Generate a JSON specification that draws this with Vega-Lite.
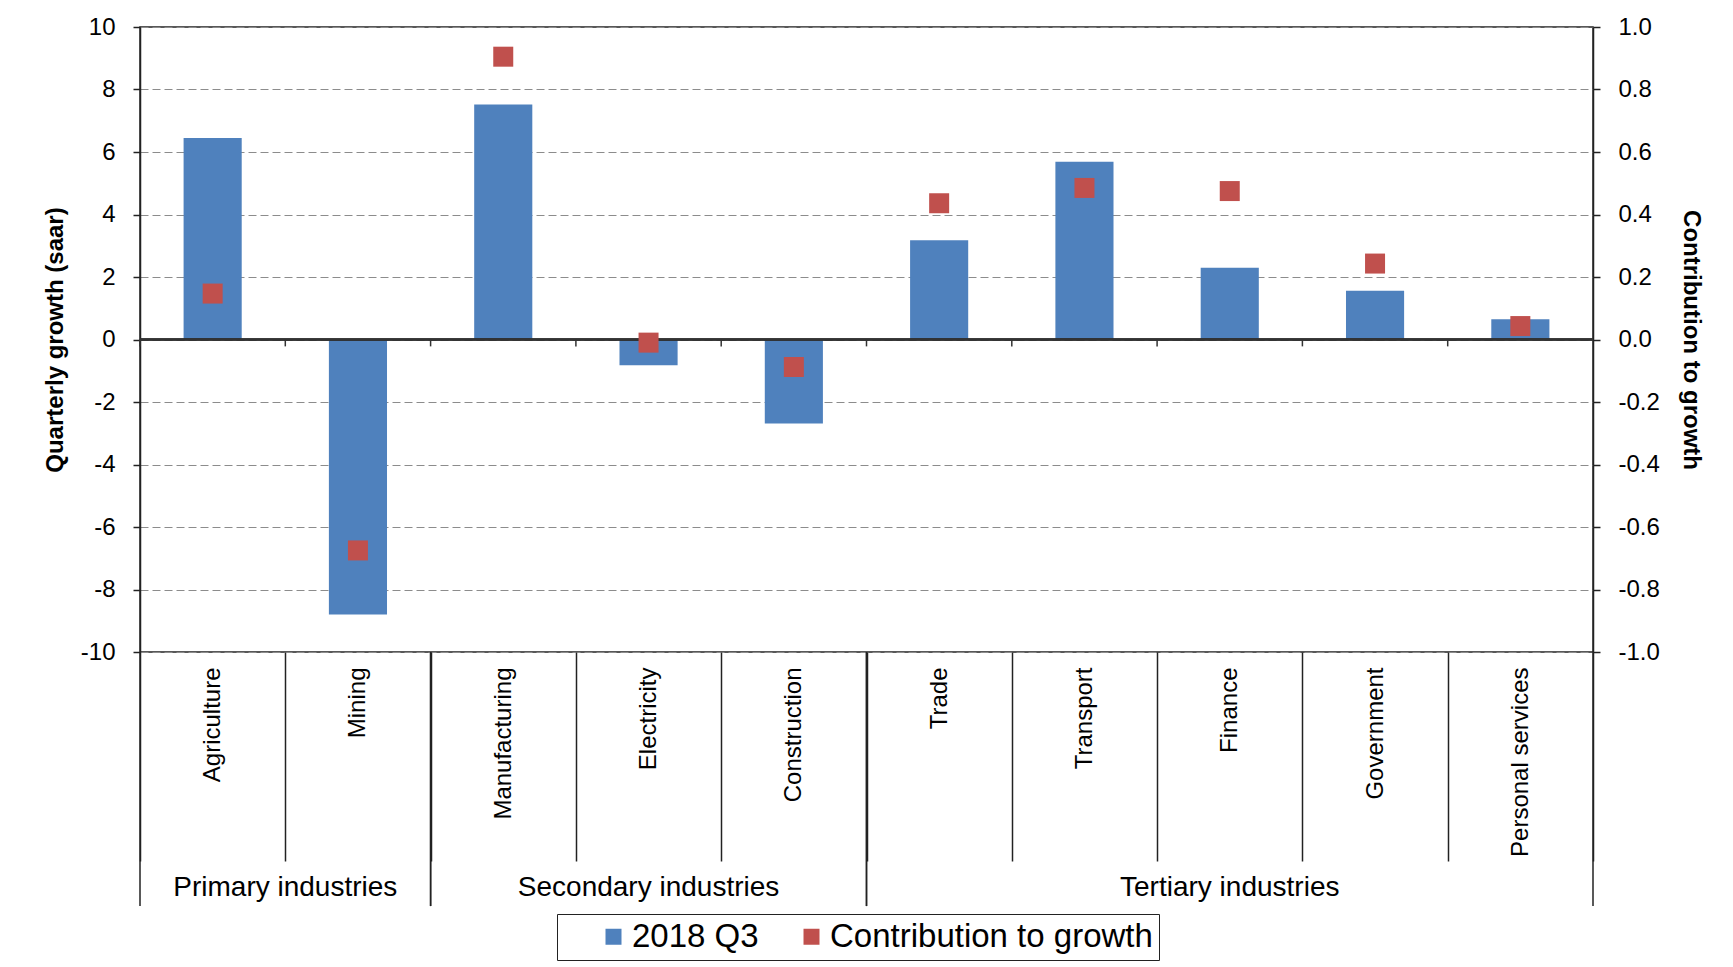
{
  "$schema": "https://vega.github.io/schema/vega-lite/v6.json",
  "width": 1453,
  "height": 625,
  "autosize": {"type": "none"},
  "padding": {"left": 140, "top": 27, "right": 140, "bottom": 315},
  "background": "#ffffff",
  "config": {
    "font": "Liberation Sans",
    "view": {"stroke": "#222222", "strokeWidth": 1.5},
    "axis": {"labelColor": "#000000", "titleColor": "#000000", "labelFont": "Liberation Sans", "titleFont": "Liberation Sans"},
    "legend": {"labelFont": "Liberation Sans"}
  },
  "datasets": {
    "industries": [
      {"industry": "Agriculture", "group": "Primary industries", "growth": 6.45, "contribution": 0.147},
      {"industry": "Mining", "group": "Primary industries", "growth": -8.8, "contribution": -0.675},
      {"industry": "Manufacturing", "group": "Secondary industries", "growth": 7.52, "contribution": 0.905},
      {"industry": "Electricity", "group": "Secondary industries", "growth": -0.82, "contribution": -0.01},
      {"industry": "Construction", "group": "Secondary industries", "growth": -2.69, "contribution": -0.088},
      {"industry": "Trade", "group": "Tertiary industries", "growth": 3.18, "contribution": 0.436},
      {"industry": "Transport", "group": "Tertiary industries", "growth": 5.69, "contribution": 0.485},
      {"industry": "Finance", "group": "Tertiary industries", "growth": 2.3, "contribution": 0.475},
      {"industry": "Government", "group": "Tertiary industries", "growth": 1.56, "contribution": 0.243},
      {"industry": "Personal services", "group": "Tertiary industries", "growth": 0.65, "contribution": 0.043}
    ],
    "groups": [
      {"group": "Primary industries", "first": "Agriculture", "last": "Mining"},
      {"group": "Secondary industries", "first": "Manufacturing", "last": "Construction"},
      {"group": "Tertiary industries", "first": "Trade", "last": "Personal services"}
    ]
  },
  "data": {"name": "industries"},
  "layer": [
    {
      "layer": [
        {
          "mark": {"type": "bar", "width": {"band": 0.4}},
          "encoding": {
            "x": {
              "field": "industry", "type": "nominal", "sort": null,
              "scale": {"type": "band", "domain": ["Agriculture", "Mining", "Manufacturing", "Electricity", "Construction", "Trade", "Transport", "Finance", "Government", "Personal services"], "paddingInner": 0, "paddingOuter": 0},
              "axis": {
                "title": null, "orient": "bottom", "domain": false,
                "tickBand": "extent", "tickSize": 209, "tickWidth": 1.5, "tickColor": "#222222",
                "labelAngle": -90, "labelAlign": "right", "labelBaseline": "middle",
                "labelPadding": -194, "labelFontSize": 24, "labelColor": "#000000",
                "labelOverlap": false, "labelLimit": 400
              }
            },
            "y": {
              "field": "growth", "type": "quantitative",
              "scale": {"domain": [-10, 10], "nice": false},
              "axis": {
                "orient": "left", "title": "Quarterly growth (saar)",
                "values": [-10, -8, -6, -4, -2, 0, 2, 4, 6, 8, 10],
                "labelExpr": "replace(datum.label, '\u2212', '-')",
                "grid": true, "gridDash": [8, 4], "gridColor": "#8c8c8c", "gridWidth": 1,
                "tickSize": 7, "tickColor": "#222222", "tickWidth": 1.5,
                "domain": true, "domainColor": "#222222", "domainWidth": 1.5,
                "labelPadding": 18, "labelFontSize": 24,
                "titleFontSize": 24, "titleFontWeight": "bold", "titlePadding": 13
              }
            },
            "color": {
              "datum": "2018 Q3", "type": "nominal",
              "scale": {"domain": ["2018 Q3", "Contribution to growth"], "range": ["#4F81BD", "#C0504D"]},
              "legend": {
                "title": null, "orient": "none", "legendX": 417, "legendY": 887,
                "direction": "horizontal", "symbolType": "square", "symbolSize": 256,
                "symbolOffset": 34, "symbolStrokeWidth": 0, "labelFontSize": 33, "labelColor": "#000000",
                "strokeColor": "#222222", "padding": 6, "columnPadding": 2,
                "labelOffset": 2, "labelLimit": 600
              }
            }
          }
        },
        {
          "mark": {"type": "rule", "color": "#333333", "strokeWidth": 1.5},
          "encoding": {"y": {"datum": 0}}
        },
        {
          "mark": {"type": "rule", "color": "#333333", "strokeWidth": 1.5},
          "encoding": {
            "x": {"field": "industry", "type": "nominal", "sort": null, "bandPosition": 0},
            "y": {"datum": 0},
            "y2": {"datum": -0.22}
          }
        },
        {
          "data": {"name": "groups"},
          "mark": {"type": "rule", "color": "#222222", "strokeWidth": 1.5},
          "encoding": {
            "x": {"field": "first", "type": "nominal", "bandPosition": 0},
            "y": {"datum": -10},
            "y2": {"datum": -18.13}
          }
        },
        {
          "data": {"name": "groups"},
          "mark": {"type": "rule", "color": "#222222", "strokeWidth": 1.5},
          "encoding": {
            "x": {"field": "last", "type": "nominal", "bandPosition": 1},
            "y": {"datum": -10},
            "y2": {"datum": -18.13}
          }
        },
        {
          "data": {"values": [{}]},
          "mark": {"type": "text", "fontSize": 28, "color": "#000000", "baseline": "middle", "align": "center"},
          "encoding": {
            "x": {"datum": "Mining", "type": "nominal", "bandPosition": 0},
            "y": {"datum": -17.55},
            "text": {"value": "Primary industries"}
          }
        },
        {
          "data": {"values": [{}]},
          "mark": {"type": "text", "fontSize": 28, "color": "#000000", "baseline": "middle", "align": "center"},
          "encoding": {
            "x": {"datum": "Electricity", "type": "nominal", "bandPosition": 0.5},
            "y": {"datum": -17.55},
            "text": {"value": "Secondary industries"}
          }
        },
        {
          "data": {"values": [{}]},
          "mark": {"type": "text", "fontSize": 28, "color": "#000000", "baseline": "middle", "align": "center"},
          "encoding": {
            "x": {"datum": "Finance", "type": "nominal", "bandPosition": 0.5},
            "y": {"datum": -17.55},
            "text": {"value": "Tertiary industries"}
          }
        }
      ]
    },
    {
      "mark": {"type": "point", "shape": "square", "filled": true, "size": 400, "opacity": 1},
      "encoding": {
        "x": {"field": "industry", "type": "nominal", "sort": null},
        "y": {
          "field": "contribution", "type": "quantitative",
          "scale": {"domain": [-1, 1], "nice": false},
          "axis": {
            "orient": "right", "title": "Contribution to growth",
            "values": [-1, -0.8, -0.6, -0.4, -0.2, 0, 0.2, 0.4, 0.6, 0.8, 1],
            "format": ".1f", "labelExpr": "replace(datum.label, '\u2212', '-')", "grid": false,
            "tickSize": 7, "tickColor": "#222222", "tickWidth": 1.5,
            "domain": true, "domainColor": "#222222", "domainWidth": 1.5,
            "labelPadding": 18, "labelFontSize": 24,
            "titleFontSize": 24, "titleFontWeight": "bold", "titlePadding": 19
          }
        },
        "color": {"datum": "Contribution to growth", "type": "nominal"}
      }
    }
  ],
  "resolve": {"scale": {"y": "independent"}}
}
